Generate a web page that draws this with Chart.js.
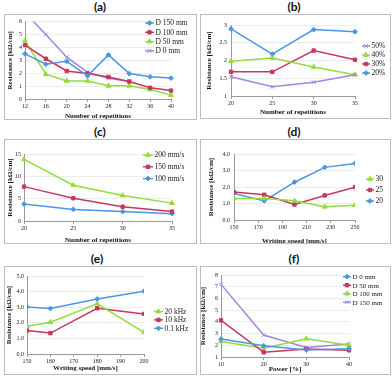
<!DOCTYPE html>
<html>
<head>
<meta charset="utf-8">
<script src="https://cdn.jsdelivr.net/npm/chart.js"></script>
<style>
  html, body { margin: 0; padding: 0; background: #fff; }
  body { position: relative; width: 392px; height: 378px; overflow: hidden; }
  .panel { position: absolute; box-sizing: border-box; border: 1px solid #bdbdbd; background: #fff; }
  .panel canvas { position: absolute; left: 0; top: 0; }
  .tag { position: absolute; width: 40px; height: 16px; line-height: 16px; text-align: center;
         font: bold 12px Lato, "Liberation Sans", sans-serif; color: #111; }
</style>
</head>
<body>
<div class="tag" style="left:80px;top:-1px">(a)</div>
<div class="tag" style="left:274px;top:-1px">(b)</div>
<div class="tag" style="left:80px;top:124px">(c)</div>
<div class="tag" style="left:274px;top:124px">(d)</div>
<div class="tag" style="left:77px;top:251px">(e)</div>
<div class="tag" style="left:274px;top:251px">(f)</div>

<div class="panel" style="left:4px;top:14px;width:193px;height:106px"><canvas id="chartA" width="191" height="104"></canvas></div>
<div class="panel" style="left:200px;top:14px;width:191px;height:105px"><canvas id="chartB" width="189" height="103"></canvas></div>
<div class="panel" style="left:4px;top:139px;width:193px;height:105px"><canvas id="chartC" width="191" height="103"></canvas></div>
<div class="panel" style="left:200px;top:139px;width:191px;height:105px"><canvas id="chartD" width="189" height="103"></canvas></div>
<div class="panel" style="left:4px;top:266px;width:193px;height:109px"><canvas id="chartE" width="191" height="107"></canvas></div>
<div class="panel" style="left:200px;top:266px;width:191px;height:109px"><canvas id="chartF" width="189" height="107"></canvas></div>

<script>
// (a) resistance vs number of repetitions, per distance
const repsA = ["12", "16", "20", "24", "28", "32", "36", "40"];
const aD150 = [3.5, 2.7, 2.92, 1.8, 3.42, 1.97, 1.72, 1.62];
const aD100 = [4.18, 3.12, 2.17, 1.98, 1.71, 1.36, 0.87, 0.65];
const aD50 = [4.52, 1.92, 1.4, 1.4, 1.02, 1.02, 0.73, 0.3];
const aD0 = [6.7, 5.0, 3.24, 2.07, 1.61, 1.36, null, null];

// (b) per power
const repsB = ["20", "25", "30", "35"];
const b50 = [1.54, 1.26, 1.39, 1.6];
const b40 = [1.98, 2.07, 1.82, 1.6];
const b30 = [1.68, 1.68, 2.28, 2.02];
const b20 = [2.89, 2.18, 2.87, 2.81];

// (c) per writing speed
const repsC = ["20", "25", "30", "35"];
const c200 = [13.8, 8.0, 5.7, 4.0];
const c150 = [7.7, 5.1, 3.2, 2.1];
const c100 = [3.8, 2.6, 2.1, 1.64];

// (d) resistance vs writing speed, per repetitions
const speedsD = [150, 175, 200, 225, 250];
const d30 = [1.31, 1.31, 1.16, 0.8, 0.9];
const d25 = [1.69, 1.53, 0.94, 1.49, 1.99];
const d20 = [1.61, 1.16, 2.29, 3.19, 3.43];

// (e) per frequency
const speedsE = [150, 160, 180, 200];
const e20k = [1.78, 2.04, 3.22, 1.39];
const e10k = [1.5, 1.34, 2.93, 2.57];
const e01k = [3.02, 2.92, 3.53, 4.03];

// (f) resistance vs power, per distance
const powerF = ["10", "20", "30", "40"];
const fD0 = [2.53, 1.96, 1.6, 1.71];
const fD50 = [4.13, 1.4, 1.69, 1.57];
const fD100 = [2.33, 1.74, 2.56, 2.0];
const fD150 = [7.2, 2.87, 1.82, 2.1];

const yTitle = "Resistance [k\u03A9/cm]";

const looks = {
  blue: { color: "#4a96e2", style: "rectRot", radius: 2.4 },
  red: { color: "#c8365e", style: "rect", radius: 2.4 },
  green: { color: "#92dc3c", style: "triangle", radius: 2.7 },
  purple: { color: "#9e86e2", style: "crossRot", radius: 2.6 },
};

Chart.defaults.font.family = '"Liberation Serif", "Times New Roman", serif';
Chart.defaults.color = "#1a1a1a";

// legend drawn at a fixed spot, like the spreadsheet legends
const sideLegend = {
  id: "sideLegend",
  afterDraw(chart, args, opts) {
    const { ctx } = chart;
    ctx.save();
    ctx.font = `${opts.size}px "Liberation Serif", serif`;
    ctx.textBaseline = "middle";
    chart.data.datasets.forEach((ds, i) => {
      const y = opts.y + i * opts.gap;
      ctx.strokeStyle = ds.borderColor;
      ctx.fillStyle = ds.borderColor;
      ctx.lineWidth = 1.4;
      ctx.beginPath();
      ctx.moveTo(opts.x, y);
      ctx.lineTo(opts.x + opts.len, y);
      ctx.stroke();
      ctx.lineWidth = 1;
      Chart.helpers.drawPoint(ctx, { pointStyle: ds.pointStyle, radius: ds.pointRadius, borderWidth: 1, rotation: 0 }, opts.x + opts.len / 2, y);
      ctx.fillStyle = "#1a1a1a";
      ctx.fillText(ds.label, opts.x + opts.len + 1.5, y + 0.5);
    });
    ctx.restore();
  },
};

function makeSeries(label, look, values, xs) {
  const l = looks[look];
  return {
    label,
    data: xs ? xs.map((x, i) => ({ x, y: values[i] })) : values,
    borderColor: l.color,
    backgroundColor: l.color,
    pointBorderColor: l.color,
    pointBackgroundColor: l.color,
    pointStyle: l.style,
    pointRadius: l.radius,
    pointBorderWidth: 1,
    borderWidth: 1.5,
    tension: 0,
    spanGaps: false,
  };
}

function buildChart(id, spec) {
  const g = spec.geo;
  const xScale = spec.linearX
    ? { type: "linear", min: spec.linearX.min, max: spec.linearX.max, ticks: { stepSize: spec.linearX.step } }
    : { type: "category" };

  Object.assign(xScale, {
    afterFit: (scale) => { scale.height = g.bh; },
    border: { color: "#9a9a9a", width: 1 },
    grid: { drawOnChartArea: false, drawTicks: true, tickLength: 3, tickColor: "#9a9a9a" },
    title: {
      display: true,
      text: spec.xTitle,
      font: { size: 7, weight: "bold" },
      padding: { top: 0, bottom: g.xpb },
      color: "#111",
    },
  });
  xScale.ticks = Object.assign(xScale.ticks || {}, {
    font: { size: 6 },
    padding: 1,
    maxRotation: 0,
    autoSkip: false,
    color: "#1a1a1a",
  });

  new Chart(document.getElementById(id), {
    type: "line",
    data: { labels: spec.labels, datasets: spec.series },
    plugins: [sideLegend],
    options: {
      responsive: false,
      animation: false,
      layout: { padding: { left: 0, top: g.t, right: g.r, bottom: 0 } },
      plugins: {
        legend: { display: false },
        tooltip: { enabled: false },
        sideLegend: spec.legend,
      },
      scales: {
        x: xScale,
        y: {
          min: spec.yMin,
          max: spec.yMax,
          afterFit: (scale) => { scale.width = g.lw; },
          border: { color: "#9a9a9a", width: 1 },
          grid: { color: "#ececec", drawTicks: false },
          ticks: {
            stepSize: spec.yStep,
            font: { size: 6 },
            padding: g.ypad,
            color: "#1a1a1a",
            callback: spec.yFmt,
          },
          title: {
            display: true,
            text: yTitle,
            font: { size: 7, weight: "bold" },
            padding: { top: g.ypt, bottom: 0 },
            color: "#111",
          },
        },
      },
    },
  });
}

const plain = (v) => String(v);
const oneDec = (v) => v.toFixed(1);

buildChart("chartA", {
  labels: repsA,
  series: [
    makeSeries("D 150 mm", "blue", aD150),
    makeSeries("D 100 mm", "red", aD100),
    makeSeries("D 50 mm", "green", aD50),
    makeSeries("D 0 mm", "purple", aD0),
  ],
  xTitle: "Number of repetitions",
  yMin: 0, yMax: 6, yStep: 1, yFmt: plain,
  geo: { lw: 20, t: 6, r: 25, bh: 20, xpb: -1, ypt: 0.8, ypad: 3 },
  legend: { x: 140, y: 8, gap: 9.3, len: 9, size: 7.5 },
});

buildChart("chartB", {
  labels: repsB,
  series: [
    makeSeries("50%", "purple", b50),
    makeSeries("40%", "green", b40),
    makeSeries("30%", "red", b30),
    makeSeries("20%", "blue", b20),
  ],
  xTitle: "Number of repetitions",
  yMin: 1, yMax: 3, yStep: 0.5, yFmt: plain,
  geo: { lw: 30, t: 10, r: 35, bh: 22, xpb: 1.8, ypt: 4.1, ypad: 4 },
  legend: { x: 161, y: 31, gap: 9, len: 8, size: 7.5 },
});

buildChart("chartC", {
  labels: repsC,
  series: [
    makeSeries("200 mm/s", "green", c200),
    makeSeries("150 mm/s", "red", c150),
    makeSeries("100 mm/s", "blue", c100),
  ],
  xTitle: "Number of repetitions",
  yMin: 0, yMax: 15, yStep: 5, yFmt: plain,
  geo: { lw: 19, t: 14, r: 24, bh: 22, xpb: -1.2, ypt: 0.8, ypad: 3 },
  legend: { x: 138, y: 15, gap: 11.8, len: 10, size: 7.5 },
});

buildChart("chartD", {
  series: [
    makeSeries("30", "green", d30, speedsD),
    makeSeries("25", "red", d25, speedsD),
    makeSeries("20", "blue", d20, speedsD),
  ],
  linearX: { min: 150, max: 250, step: 20 },
  xTitle: "Writing speed [mm/s]",
  yMin: 0, yMax: 4, yStep: 1, yFmt: oneDec,
  geo: { lw: 33, t: 14, r: 35, bh: 23, xpb: -1.9, ypt: 5.8, ypad: 4 },
  legend: { x: 165, y: 39, gap: 11, len: 8, size: 7.5 },
});

buildChart("chartE", {
  series: [
    makeSeries("20 kHz", "green", e20k, speedsE),
    makeSeries("10 kHz", "red", e10k, speedsE),
    makeSeries("0.1 kHz", "blue", e01k, speedsE),
  ],
  linearX: { min: 150, max: 200, step: 10 },
  xTitle: "Writing speed [mm/s]",
  yMin: 0, yMax: 5, yStep: 1, yFmt: oneDec,
  geo: { lw: 22, t: 9, r: 52, bh: 20, xpb: 1.8, ypt: 0.1, ypad: 3 },
  legend: { x: 149, y: 44.5, gap: 8.4, len: 9, size: 7.5 },
});

buildChart("chartF", {
  labels: powerF,
  series: [
    makeSeries("D 0 mm", "blue", fD0),
    makeSeries("D 50 mm", "red", fD50),
    makeSeries("D 100 mm", "green", fD100),
    makeSeries("D 150 mm", "purple", fD150),
  ],
  xTitle: "Power [%]",
  yMin: 1, yMax: 8, yStep: 1, yFmt: plain,
  geo: { lw: 20, t: 8, r: 41, bh: 17, xpb: 0.8, ypt: -1.7, ypad: 3 },
  legend: { x: 142, y: 9.7, gap: 8.5, len: 8, size: 7 },
});
</script>
</body>
</html>
